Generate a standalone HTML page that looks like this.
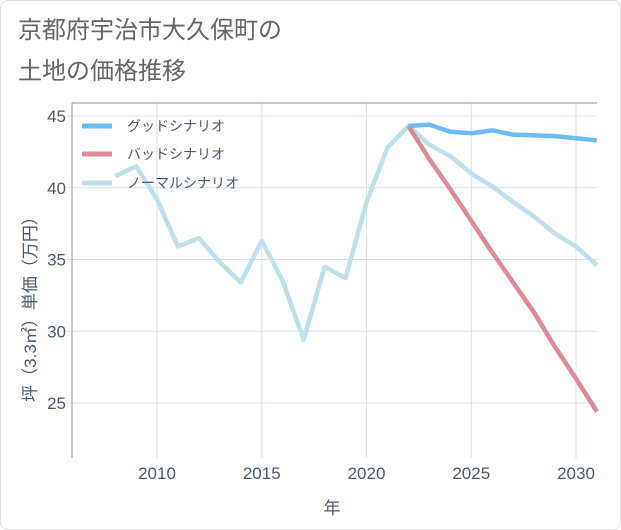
<!DOCTYPE html>
<html><head><meta charset="utf-8"><style>
body{margin:0;background:#fff;font-family:"Liberation Sans","Noto Sans CJK JP",sans-serif}
#card{position:absolute;left:0;top:0;width:619px;height:528px;border:1px solid #ddd;border-radius:8px;background:#fff}
</style></head><body>
<div id="card">
<svg id="chart" width="621" height="530" style="position:absolute;left:-1px;top:-1px"></svg>
</div>
<script>
const goodYears=[2022,2023,2024,2025,2026,2027,2028,2029,2030,2031];
const goodVals=[44.3,44.4,43.9,43.8,44.0,43.7,43.65,43.6,43.45,43.3];
const badYears=[2022,2023,2024,2025,2026,2027,2028,2029,2030,2031];
const badVals=[44.3,42.0,39.9,37.7,35.5,33.4,31.3,28.9,26.7,24.4];
const normYears=[2008,2009,2010,2011,2012,2013,2014,2015,2016,2017,2018,2019,2020,2021,2022,2023,2024,2025,2026,2027,2028,2029,2030,2031];
const normVals=[40.8,41.5,39.2,35.9,36.5,34.8,33.4,36.3,33.5,29.4,34.5,33.7,39.0,42.8,44.3,43.0,42.2,41.0,40.1,39.0,38.0,36.8,35.9,34.6];
const xTicks=[2010,2015,2020,2025,2030];
const yTicks=[25,30,35,40,45];
const ns="http://www.w3.org/2000/svg",svg=document.getElementById('chart');
const L=72,R=597,T=103,B=458;
const x=v=>157+(v-2010)*20.95;
const y=v=>116+(45-v)*14.35;
function el(t,a,txt){const e=document.createElementNS(ns,t);for(const k in a)e.setAttribute(k,a[k]);if(txt!==undefined)e.textContent=txt;svg.appendChild(e);return e;}
let t=el('text',{x:18,y:38,'font-size':24,fill:'#666'},'京都府宇治市大久保町の');

t=el('text',{x:18,y:79,'font-size':24,fill:'#666'},'土地の価格推移');

xTicks.forEach(v=>{let g=el('line',{x1:x(v),x2:x(v),y1:T,y2:B,stroke:'#d5e0ea','stroke-width':1});

let l=el('text',{x:x(v),y:479,'font-size':17,fill:'#4a5a6e','text-anchor':'middle'},v);
});
yTicks.forEach(v=>{let g=el('line',{x1:L-6,x2:R,y1:y(v),y2:y(v),stroke:'#d5e0ea','stroke-width':1});

let l=el('text',{x:66,y:y(v)+6,'font-size':17,fill:'#4a5a6e','text-anchor':'end'},v);
});
let ax=el('path',{d:`M${L},${T}V${B}M${L},${T}H${R}`,stroke:'#8a96a3','stroke-width':1,fill:'none'});

function line(xs,vs,c,name){const p=el('polyline',{points:xs.map((v,i)=>x(v)+','+y(vs[i])).join(' '),fill:'none',stroke:c,'stroke-width':4.5,'stroke-linejoin':'round'});
}
line(normYears,normVals,'#bde0ec','normal-scenario-line');
line(badYears,badVals,'#de8a93','bad-scenario-line');
line(goodYears,goodVals,'#6cbcf0','good-scenario-line');
const leg=[['グッドシナリオ','#6cbcf0',126],['バッドシナリオ','#de8a93',154],['ノーマルシナリオ','#bde0ec',183]];
leg.forEach(([n,c,yy])=>{let s=el('line',{x1:82,x2:112,y1:yy,y2:yy,stroke:c,'stroke-width':5});

let l=el('text',{x:127,y:yy+5,'font-size':14,fill:'#4a5a6e'},n);
});
t=el('text',{x:332,y:514,'font-size':17,fill:'#4a5a6e','text-anchor':'middle'},'年');

t=el('text',{x:0,y:0,'font-size':17,fill:'#4a5a6e','text-anchor':'middle',transform:'translate(36,305) rotate(-90)'},'坪（3.3㎡）単価（万円）');

</script>
</body></html>
